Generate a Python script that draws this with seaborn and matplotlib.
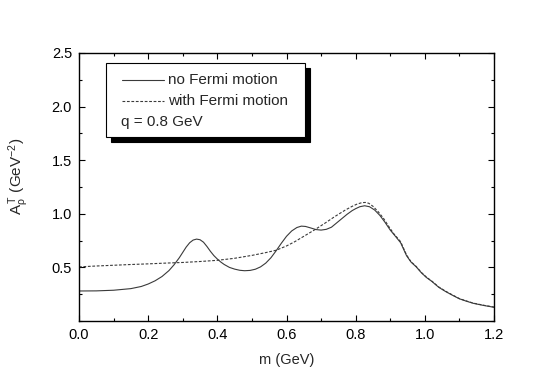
import matplotlib
matplotlib.use("Agg")
import matplotlib.pyplot as plt
from matplotlib.patches import Rectangle
from matplotlib.lines import Line2D
from matplotlib.ticker import MultipleLocator
import seaborn as sns
import pandas as pd

# ---- data ----
m_no_fermi = [0.0, 0.05, 0.10, 0.15, 0.18, 0.20, 0.22, 0.24, 0.26, 0.275, 0.29, 0.30, 0.31,
              0.32, 0.33, 0.34, 0.35, 0.36, 0.37, 0.38, 0.39, 0.40, 0.41, 0.42, 0.435, 0.45,
              0.465, 0.479, 0.495, 0.51, 0.525, 0.54, 0.555, 0.57, 0.585, 0.60, 0.615, 0.63,
              0.643, 0.655, 0.67, 0.685, 0.70, 0.715, 0.73, 0.745, 0.76, 0.775, 0.79, 0.80,
              0.812, 0.826, 0.84, 0.855, 0.87, 0.885, 0.90, 0.915, 0.93, 0.947, 0.96, 0.975,
              0.99, 1.005, 1.02, 1.04, 1.06, 1.08, 1.10, 1.12, 1.14, 1.17, 1.2]
a_no_fermi = [0.28, 0.281, 0.287, 0.302, 0.322, 0.345, 0.375, 0.415, 0.47, 0.525, 0.59, 0.64,
              0.69, 0.73, 0.755, 0.764, 0.758, 0.735, 0.695, 0.65, 0.61, 0.578, 0.55, 0.527,
              0.50, 0.484, 0.473, 0.469, 0.472, 0.483, 0.505, 0.54, 0.59, 0.655, 0.725, 0.79,
              0.84, 0.872, 0.885, 0.882, 0.868, 0.853, 0.848, 0.855, 0.875, 0.915, 0.955, 0.995,
              1.03, 1.048, 1.066, 1.075, 1.066, 1.035, 0.985, 0.92, 0.848, 0.79, 0.73, 0.61,
              0.55, 0.505, 0.45, 0.405, 0.37, 0.315, 0.275, 0.24, 0.207, 0.185, 0.165, 0.145,
              0.128]

m_fermi = [0.0, 0.05, 0.1, 0.15, 0.2, 0.25, 0.3, 0.35, 0.4, 0.45, 0.5, 0.54, 0.57, 0.6, 0.624,
           0.65, 0.68, 0.71, 0.74, 0.77, 0.79, 0.805, 0.818, 0.828, 0.838, 0.85, 0.865, 0.88,
           0.895, 0.91, 0.93, 0.947, 0.96, 0.975, 0.99, 1.005, 1.02, 1.04, 1.06, 1.08, 1.10,
           1.12, 1.14, 1.17, 1.2]
a_fermi = [0.505, 0.513, 0.52, 0.527, 0.533, 0.54, 0.546, 0.555, 0.566, 0.585, 0.612, 0.638,
           0.66, 0.70, 0.74, 0.79, 0.848, 0.91, 0.975, 1.035, 1.07, 1.092, 1.104, 1.106, 1.098,
           1.07, 1.02, 0.96, 0.885, 0.815, 0.74, 0.617, 0.553, 0.509, 0.453, 0.408, 0.373,
           0.318, 0.278, 0.243, 0.209, 0.187, 0.167, 0.147, 0.13]

series_labels = ["no Fermi motion", "with Fermi motion"]
note_text = "q = 0.8 GeV"
x_ticks = [0.0, 0.2, 0.4, 0.6, 0.8, 1.0, 1.2]
y_ticks = [0.5, 1.0, 1.5, 2.0, 2.5]

df = pd.concat([
    pd.DataFrame({"m": m_no_fermi, "A": a_no_fermi, "series": series_labels[0]}),
    pd.DataFrame({"m": m_fermi, "A": a_fermi, "series": series_labels[1]}),
])

sns.set_theme(style="ticks")
plt.rcParams["font.family"] = ["Liberation Sans", "DejaVu Sans"]
plt.rcParams["mathtext.fontset"] = "custom"
plt.rcParams["mathtext.rm"] = "Liberation Sans"
plt.rcParams["mathtext.it"] = "Liberation Sans:italic"
plt.rcParams["mathtext.sf"] = "Liberation Sans"

fig = plt.figure(figsize=(5.45, 3.80), dpi=100)
ax = fig.add_axes([79 / 545, (380 - 321) / 380, (494 - 79) / 545, (321 - 53) / 380])

line_color = "#3a3a3a"
sns.lineplot(data=df[df.series == series_labels[0]], x="m", y="A", ax=ax,
             color=line_color, lw=0.8, estimator=None, sort=True, legend=False)
sns.lineplot(data=df[df.series == series_labels[1]], x="m", y="A", ax=ax,
             color=line_color, lw=0.8, estimator=None, sort=True, legend=False,
             linestyle=(0, (2.5, 1.5)))

ax.set_xlim(0.0, 1.2)
ax.set_ylim(0.0, 2.5)
ax.set_xticks(x_ticks)
ax.set_xticklabels([f"{v:.1f}" for v in x_ticks])
ax.set_yticks(y_ticks)
ax.set_yticklabels([f"{v:.1f}" for v in y_ticks])
ax.xaxis.set_minor_locator(MultipleLocator(0.1))
ax.yaxis.set_minor_locator(MultipleLocator(0.25))
ax.tick_params(which="both", direction="in", top=True, right=True, colors="black",
               width=0.8, labelsize=10.5, pad=5)
ax.tick_params(which="major", length=4.5)
ax.tick_params(which="minor", length=2.5)
for s in ax.spines.values():
    s.set_linewidth(1.0)
    s.set_color("black")
    s.set_visible(True)

ax.set_xlabel("m (GeV)", fontsize=10.5, labelpad=8)
ax.set_ylabel(r"A$_{\mathregular{ρ}}^{\,\mathregular{T}}$ (GeV$^{\mathregular{-2}}$)",
              fontsize=11, labelpad=6)
ax.yaxis.set_label_coords(-0.115, 0.54)

# ---- legend box with offset black shadow ----
fx = lambda px: px / 545
fy = lambda py: 1 - py / 380
box_l, box_r, box_t, box_b = 106, 305, 63, 137
fig.patches.append(Rectangle((fx(box_l + 5), fy(box_b + 5)), fx(box_r - box_l), fy(box_t) - fy(box_b),
                             transform=fig.transFigure, facecolor="black", edgecolor="black",
                             lw=0.8, zorder=5))
fig.patches.append(Rectangle((fx(box_l), fy(box_b)), fx(box_r - box_l), fy(box_t) - fy(box_b),
                             transform=fig.transFigure, facecolor="white", edgecolor="black",
                             lw=0.8, zorder=6))
fig.lines.append(Line2D([fx(122), fx(164)], [fy(80), fy(80)], transform=fig.transFigure,
                        color=line_color, lw=0.8, zorder=7))
fig.lines.append(Line2D([fx(122), fx(164)], [fy(101), fy(101)], transform=fig.transFigure,
                        color=line_color, lw=0.8, ls=(0, (2.5, 1.5)), zorder=7))
fig.text(fx(168), fy(80), series_labels[0], fontsize=11, va="center", ha="left", zorder=8)
fig.text(fx(168), fy(101), series_labels[1], fontsize=11, va="center", ha="left", zorder=8)
fig.text(fx(121), fy(122), note_text, fontsize=11, va="center", ha="left", zorder=8)

fig.savefig("out.png", dpi=100)
